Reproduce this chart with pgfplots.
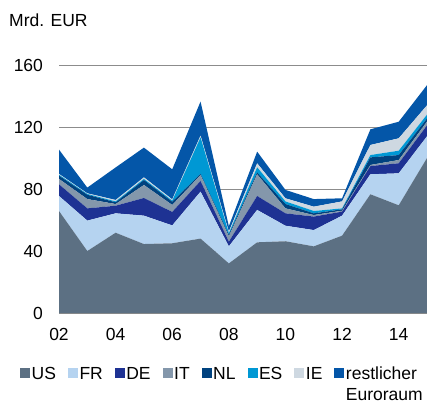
\documentclass[border=0pt]{standalone}
\usepackage{pgfplots}
\usepackage{pgfplotstable}
\pgfplotsset{compat=1.18}
\usepackage{fontspec}
\setmainfont{Liberation Sans}
\definecolor{cUS}{HTML}{5C7083}
\definecolor{cFR}{HTML}{B5D3F0}
\definecolor{cDE}{HTML}{1E3293}
\definecolor{cIT}{HTML}{8497AB}
\definecolor{cNL}{HTML}{00427F}
\definecolor{cES}{HTML}{0098D4}
\definecolor{cIE}{HTML}{CED8E1}
\definecolor{cRE}{HTML}{0456A8}
\pgfplotstableread{
year US FR DE IT NL ES IE RE
2002 65.8 9.7 7.5 3.5 2.1 0.6 0.5 15.7
2003 40.0 19.6 7.9 6.0 2.8 0.5 0.4 3.7
2004 51.8 12.5 4.9 1.1 1.1 0.6 0.9 21.0
2005 44.5 18.3 11.4 8.4 3.2 0.7 1.0 19.2
2006 45.0 11.5 8.7 4.5 2.1 0.7 0.8 19.4
2007 48.0 30.3 6.9 3.8 0.7 23.6 1.1 22.0
2008 32.0 11.0 3.0 3.5 1.0 1.0 1.0 3.5
2009 45.6 20.9 9.0 14.0 1.2 3.3 2.6 7.5
2010 46.3 10.0 8.0 3.2 2.8 1.7 2.0 5.4
2011 43.0 10.5 8.7 1.0 1.1 1.5 2.8 4.9
2012 49.9 12.9 2.6 0.6 0.9 0.6 4.5 2.0
2013 76.6 12.9 5.3 0.7 4.9 1.5 6.5 10.1
2014 69.5 20.6 6.5 2.1 3.2 2.8 8.0 10.7
2015 100.0 14.0 7.0 2.5 2.0 2.5 6.0 13.0
}\datatable
\begin{document}
\fontsize{17.5}{21}\selectfont
\begin{tikzpicture}
\begin{axis}[
  scale only axis, width=368pt, height=248pt,
  at={(0,0)}, anchor=south west,
  xmin=2002, xmax=2015, ymin=0, ymax=160,
  stack plots=y,
  xtick={2002,2004,2006,2008,2010,2012,2014},
  xticklabels={02,04,06,08,10,12,14},
  ytick={0,40,80,120,160},
  major tick length=0pt,
  ymajorgrids, grid style={color=gray!90, line width=0.8pt},
  axis x line*=bottom, axis y line*=left,
  x axis line style={color=gray!90, line width=0.8pt, -},
  y axis line style={draw=none},
  ticklabel style={font=\fontsize{17.5}{21}\selectfont},
  yticklabel style={xshift=-10pt},
  xticklabel style={yshift=-9pt},
  /pgf/number format/assume math mode=true,
  legend columns=8,
  legend style={draw=none, fill=none, at={(-39pt,-52pt)}, anchor=north west,
    inner sep=0pt, font=\fontsize{17.5}{21}\selectfont,
    nodes={inner xsep=1.5pt, inner ysep=0pt},
    cells={anchor=base west},
    /tikz/every even column/.append style={column sep=10.5pt}},
  legend image code/.code={\path[#1, draw=none] (0pt,1.5pt) rectangle (10pt,11.5pt);},
]
\addplot[fill=cUS, draw=none] table[x=year, y=US] {\datatable} \closedcycle;
\addplot[fill=cFR, draw=none] table[x=year, y=FR] {\datatable} \closedcycle;
\addplot[fill=cDE, draw=none] table[x=year, y=DE] {\datatable} \closedcycle;
\addplot[fill=cIT, draw=none] table[x=year, y=IT] {\datatable} \closedcycle;
\addplot[fill=cNL, draw=none] table[x=year, y=NL] {\datatable} \closedcycle;
\addplot[fill=cES, draw=none] table[x=year, y=ES] {\datatable} \closedcycle;
\addplot[fill=cIE, draw=none] table[x=year, y=IE] {\datatable} \closedcycle;
\addplot[fill=cRE, draw=none] table[x=year, y=RE] {\datatable} \closedcycle;
\legend{US,FR,DE,IT,NL,ES,IE,{\begin{tabular}[t]{@{}l@{}}restlicher\\Euroraum\end{tabular}}}
\end{axis}
\node[anchor=base west, inner sep=0pt] at (-50pt,287pt) {Mrd. EUR};
\pgfresetboundingbox
\path (-59pt,-92pt) rectangle (368pt,313pt);
\end{tikzpicture}
\end{document}
